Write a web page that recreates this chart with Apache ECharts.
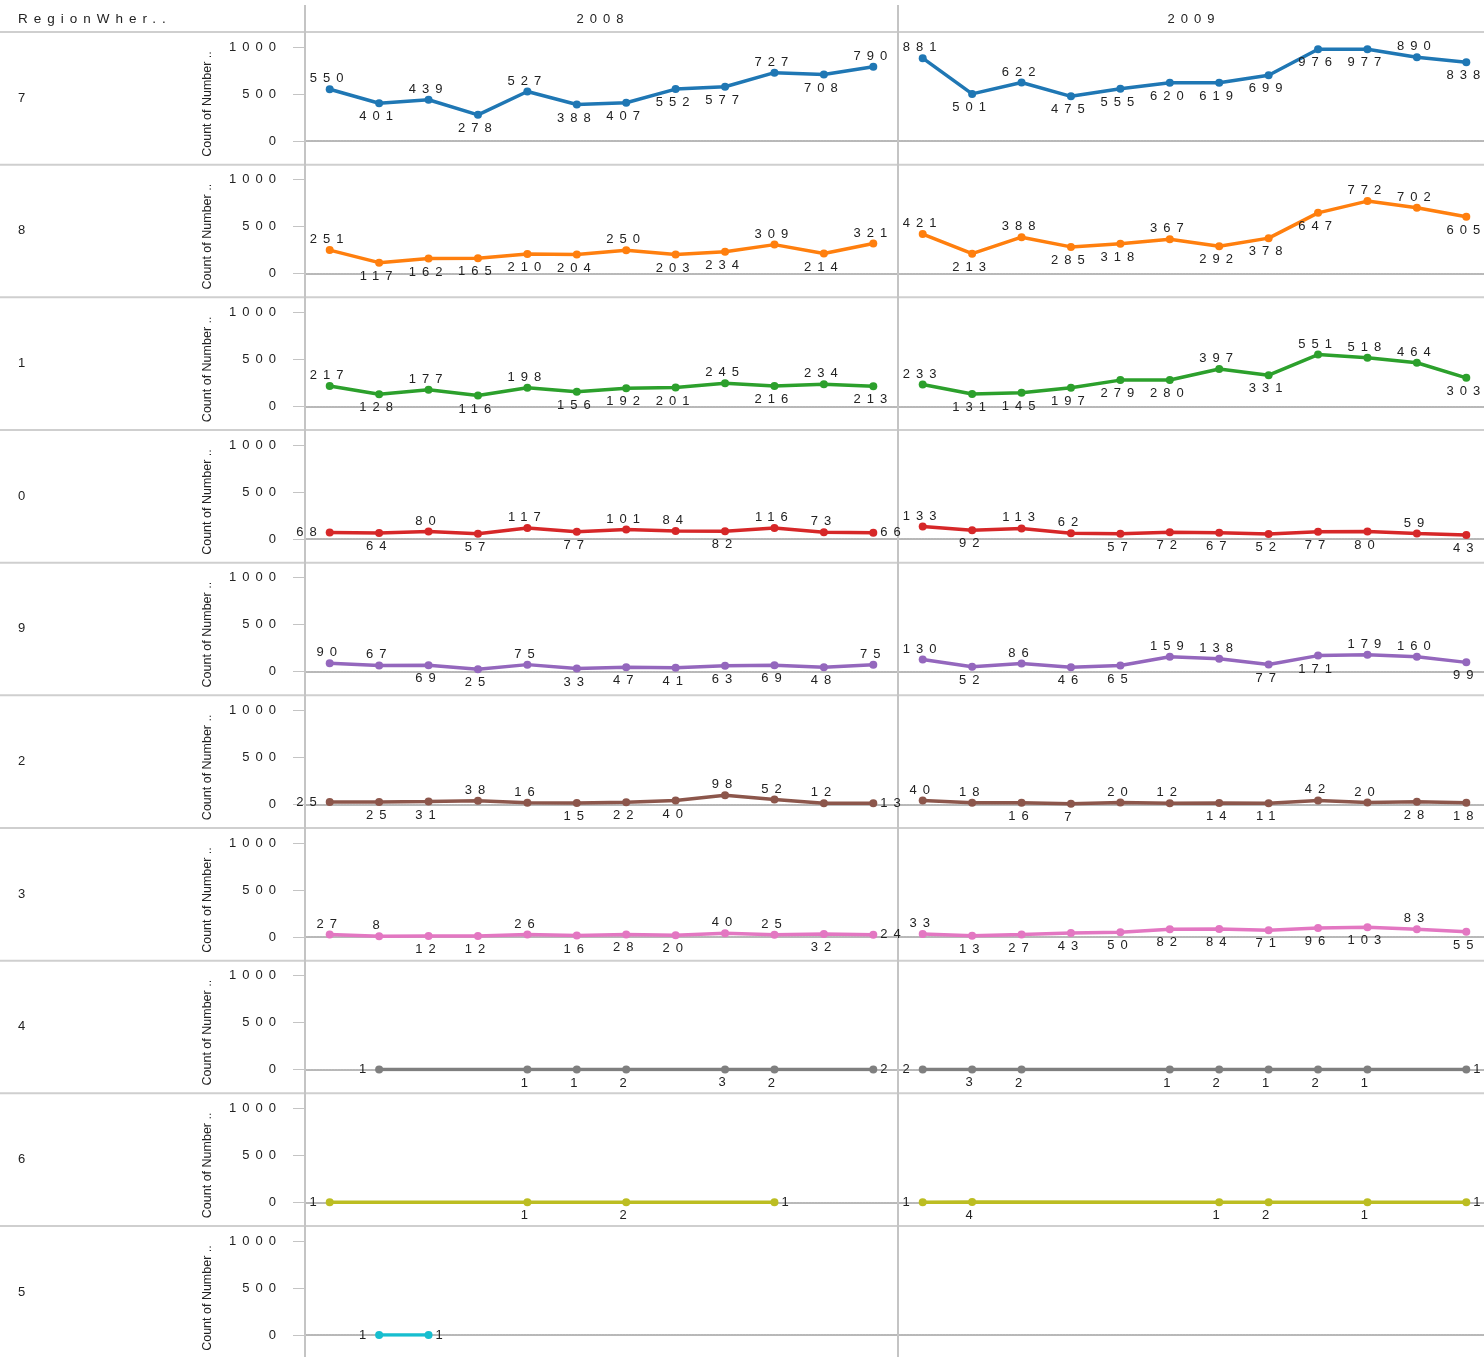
<!DOCTYPE html>
<html>
<head>
<meta charset="utf-8">
<script src="https://cdn.jsdelivr.net/npm/echarts@6/dist/echarts.min.js"></script>
<style>
  html, body { margin: 0; padding: 0; background: #fff; overflow: hidden; }
  #chart { width: 1491px; height: 1357px; }
</style>
</head>
<body>
<div id="chart"></div>
<script>
// ---------------- data ----------------
const months = ['Jan','Feb','Mar','Apr','May','Jun','Jul','Aug','Sep','Oct','Nov','Dec'];
const regions = ['7','8','1','0','9','2','3','4','6','5'];
const years = ['2008','2009'];
const yTicks = [0, 500, 1000];

const region7_2008 = [550,401,439,278,527,388,407,552,577,727,708,790];
const region7_2009 = [881,501,622,475,555,620,619,699,976,977,890,838];
const region8_2008 = [251,117,162,165,210,204,250,203,234,309,214,321];
const region8_2009 = [421,213,388,285,318,367,292,378,647,772,702,605];
const region1_2008 = [217,128,177,116,198,156,192,201,245,216,234,213];
const region1_2009 = [233,131,145,197,279,280,397,331,551,518,464,303];
const region0_2008 = [68,64,80,57,117,77,101,84,82,116,73,66];
const region0_2009 = [133,92,113,62,57,72,67,52,77,80,59,43];
const region9_2008 = [90,67,69,25,75,33,47,41,63,69,48,75];
const region9_2009 = [130,52,86,46,65,159,138,77,171,179,160,99];
const region2_2008 = [25,25,31,38,16,15,22,40,98,52,12,13];
const region2_2009 = [40,18,16,7,20,12,14,11,42,20,28,18];
const region3_2008 = [27,8,12,12,26,16,28,20,40,25,32,24];
const region3_2009 = [33,13,27,43,50,82,84,71,96,103,83,55];
const region4_2008 = [null,1,null,null,1,1,2,null,3,2,null,2];
const region4_2009 = [2,3,2,null,null,1,2,1,2,1,null,1];
const region6_2008 = [1,null,null,null,1,null,2,null,null,1,null,null];
const region6_2009 = [1,4,null,null,null,null,1,2,null,1,null,1];
const region5_2008 = [null,1,1,null,null,null,null,null,null,null,null,null];
const region5_2009 = [null,null,null,null,null,null,null,null,null,null,null,null];

// ---------------- styles (label side per point: T top, B bottom, L left, R right) ----------------
const side7_2008 = 'TBTBTBBBBTBT', side7_2009 = 'TBTBBBBBBBTB';
const side8_2008 = 'TBBBBBTBBTBT', side8_2009 = 'TBTBBTBBBTTB';
const side1_2008 = 'TBTBTBBBTBTB', side1_2009 = 'TBBBBBTBTTTB';
const side0_2008 = 'LBTBTBTTBTTR', side0_2009 = 'TBTTBBBBBBTB';
const side9_2008 = 'TTBBTBBBBBBT', side9_2009 = 'TBTBBTTBBTTB';
const side2_2008 = 'LBBTTBBBTTTR', side2_2009 = 'TTBBTTBBTTBB';
const side3_2008 = 'TTBBTBBBTTBR', side3_2009 = 'TBBBBBBBBBTB';
const side4_2008 = '-L--BBB-BB-R', side4_2009 = 'LBB--BBBBB-R';
const side6_2008 = 'L---B-B--R--', side6_2009 = 'LB----BB-B-R';
const side5_2008 = '-LR---------', side5_2009 = '------------';

const colors = ['#1f77b4','#ff7f0e','#2ca02c','#d62728','#9467bd','#8c564b','#e377c2','#7f7f7f','#bcbd22','#17becf'];

const valueTable = {
  '7': [region7_2008, region7_2009], '8': [region8_2008, region8_2009],
  '1': [region1_2008, region1_2009], '0': [region0_2008, region0_2009],
  '9': [region9_2008, region9_2009], '2': [region2_2008, region2_2009],
  '3': [region3_2008, region3_2009], '4': [region4_2008, region4_2009],
  '6': [region6_2008, region6_2009], '5': [region5_2008, region5_2009]
};
const sideTable = {
  '7': [side7_2008, side7_2009], '8': [side8_2008, side8_2009],
  '1': [side1_2008, side1_2009], '0': [side0_2008, side0_2009],
  '9': [side9_2008, side9_2009], '2': [side2_2008, side2_2009],
  '3': [side3_2008, side3_2009], '4': [side4_2008, side4_2009],
  '6': [side6_2008, side6_2009], '5': [side5_2008, side5_2009]
};

// Tableau-like letter spacing for text drawn on canvas (axis titles excluded)
(function () {
  const P = CanvasRenderingContext2D.prototype;
  if (!('letterSpacing' in P)) return;
  const orig = P.fillText;
  P.fillText = function () {
    this.letterSpacing = this.font.indexOf('Liberation') >= 0 ? '0px' : '6px';
    return orig.apply(this, arguments);
  };
})();

// ---------------- layout ----------------
const ROW0 = 32, ROWH = 132.67, PANEL_L = 305, PANEL_W = 593;
const posMap = { T: 'top', B: 'bottom', L: 'left', R: 'right' };
const distMap = { T: 0, B: 3, L: 3, R: 3 };

const grids = [], xAxes = [], yAxes = [], series = [], graphics = [];

regions.forEach((reg, r) => {
  const rowTop = ROW0 + r * ROWH;
  years.forEach((yr, c) => {
    const idx = grids.length;
    grids.push({ left: PANEL_L + c * PANEL_W, top: rowTop + 15, width: PANEL_W, height: 94 });
    xAxes.push({
      type: 'category', gridIndex: idx, data: months, boundaryGap: true,
      axisLabel: { show: false }, axisTick: { show: false }, splitLine: { show: false },
      axisLine: { show: true, onZero: true, lineStyle: { color: '#b8b8b8', width: 2, type: [2, 1] } }
    });
    yAxes.push({
      type: 'value', gridIndex: idx, min: 0, max: 1000, interval: 500,
      axisLine: { show: false }, splitLine: { show: false },
      axisTick: { show: c === 0, length: 12, lineStyle: { color: '#c4c4c4', width: 1 } },
      axisLabel: { show: c === 0, margin: 23, color: '#222', fontSize: 13, fontFamily: 'Arial',
                   formatter: v => String(v) }
    });
    const vals = valueTable[reg][c];
    const sides = sideTable[reg][c];
    const data = vals.map((v, i) => {
      if (v === null) return '-';
      const s = sides[i];
      return { value: v, label: { position: posMap[s] || 'top', distance: distMap[s] } };
    });
    const col = colors[r];
    series.push({
      type: 'line', xAxisIndex: idx, yAxisIndex: idx, data: data,
      connectNulls: true, symbol: 'circle', symbolSize: 8, showAllSymbol: true,
      lineStyle: { width: 3.5, color: col }, itemStyle: { color: col },
      label: { show: true, fontSize: 13, color: '#222', fontFamily: 'Arial' },
      emphasis: { disabled: true }, silent: true, z: 3
    });
  });

  // row label
  graphics.push({ type: 'text', x: 18, y: rowTop + 66,
    style: { text: reg, font: '13px Arial', fill: '#222', align: 'left', verticalAlign: 'middle' } });
  // y axis title
  graphics.push({ type: 'text', x: 208, y: rowTop + 72, rotation: Math.PI / 2,
    style: { text: 'Count of Number ..', font: '12.5px "Liberation Sans"', fill: '#222',
             align: 'center', verticalAlign: 'middle' } });
  // row separator
  const yb = ROW0 + (r + 1) * ROWH;
  if (r < regions.length - 1) {
    graphics.push({ type: 'line', shape: { x1: 0, y1: yb, x2: 1491, y2: yb },
      style: { stroke: '#cfcfcf', lineWidth: 2 }, z: 1 });
  }
});

// header
graphics.push({ type: 'line', shape: { x1: 0, y1: ROW0, x2: 1491, y2: ROW0 }, style: { stroke: '#cfcfcf', lineWidth: 2 }, z: 1 });
graphics.push({ type: 'line', shape: { x1: 305, y1: 5, x2: 305, y2: 1357 }, style: { stroke: '#c4c4c4', lineWidth: 2 }, z: 2 });
graphics.push({ type: 'line', shape: { x1: 898, y1: 5, x2: 898, y2: 1357 }, style: { stroke: '#c4c4c4', lineWidth: 2 }, z: 2 });
graphics.push({ type: 'text', x: 18, y: 19,
  style: { text: 'RegionWher..', font: '13.5px Arial', fill: '#222', align: 'left', verticalAlign: 'middle' } });
graphics.push({ type: 'text', x: 603, y: 19,
  style: { text: years[0], font: '13px Arial', fill: '#222', align: 'center', verticalAlign: 'middle' } });
graphics.push({ type: 'text', x: 1194, y: 19,
  style: { text: years[1], font: '13px Arial', fill: '#222', align: 'center', verticalAlign: 'middle' } });

const chart = echarts.init(document.getElementById('chart'), null, { renderer: 'canvas' });
chart.setOption({
  animation: false,
  backgroundColor: '#fff',
  grid: grids,
  xAxis: xAxes,
  yAxis: yAxes,
  series: series,
  graphic: graphics
});
</script>
</body>
</html>
